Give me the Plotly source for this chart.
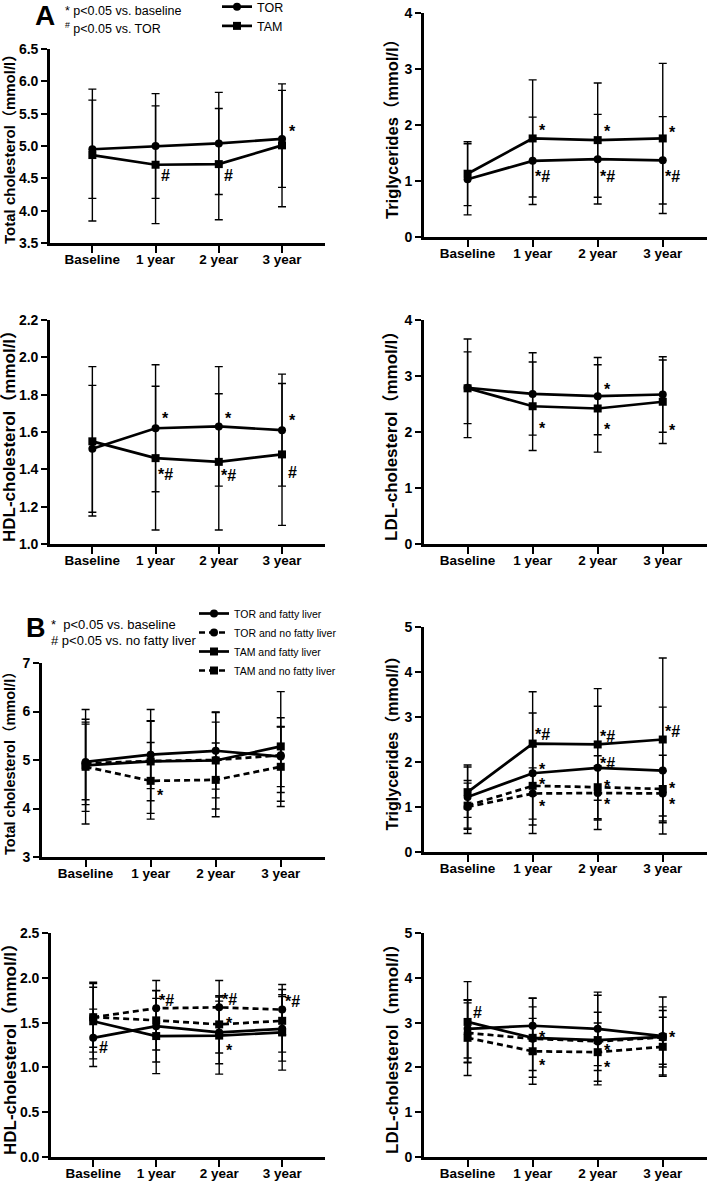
import plotly.graph_objects as go

# ---------------- data ----------------
cats = ["Baseline", "1 year", "2 year", "3 year"]

# Panel A (TOR vs TAM): means and SD
A_TC_TOR = [4.95, 5.00, 5.04, 5.11]
A_TC_TOR_SD = [0.76, 0.81, 0.79, 0.75]
A_TC_TAM = [4.86, 4.71, 4.72, 5.01]
A_TC_TAM_SD = [1.02, 0.91, 0.86, 0.95]

A_TG_TOR = [1.03, 1.36, 1.39, 1.37]
A_TG_TOR_SD = [0.635, 0.78, 0.80, 0.78]
A_TG_TAM = [1.13, 1.76, 1.73, 1.76]
A_TG_TAM_SD = [0.57, 1.045, 1.02, 1.34]

A_HDL_TOR = [1.51, 1.62, 1.63, 1.61]
A_HDL_TOR_SD = [0.34, 0.34, 0.32, 0.30]
A_HDL_TAM = [1.55, 1.46, 1.44, 1.48]
A_HDL_TAM_SD = [0.40, 0.385, 0.365, 0.38]

A_LDL_TOR = [2.79, 2.68, 2.64, 2.67]
A_LDL_TOR_SD = [0.64, 0.735, 0.69, 0.675]
A_LDL_TAM = [2.78, 2.46, 2.42, 2.54]
A_LDL_TAM_SD = [0.88, 0.79, 0.78, 0.745]

# Panel B (by fatty liver status)
B_TC_TORF = [4.96, 5.11, 5.19, 5.07]
B_TC_TORF_SD = [0.78, 0.70, 0.79, 0.62]
B_TC_TORN = [4.93, 4.98, 5.00, 5.10]
B_TC_TORN_SD = [0.85, 0.82, 0.78, 0.77]
B_TC_TAMF = [4.89, 4.97, 4.99, 5.28]
B_TC_TAMF_SD = [0.95, 1.07, 1.00, 1.13]
B_TC_TAMN = [4.86, 4.57, 4.59, 4.86]
B_TC_TAMN_SD = [1.18, 0.79, 0.76, 0.82]

B_TG_TORF = [1.22, 1.75, 1.87, 1.81]
B_TG_TORF_SD = [0.715, 1.34, 1.37, 1.41]
B_TG_TORN = [1.00, 1.30, 1.31, 1.30]
B_TG_TORN_SD = [0.59, 0.57, 0.60, 0.50]
B_TG_TAMF = [1.33, 2.41, 2.39, 2.50]
B_TG_TAMF_SD = [0.56, 1.15, 1.24, 1.81]
B_TG_TAMN = [1.03, 1.47, 1.44, 1.40]
B_TG_TAMN_SD = [0.50, 0.87, 0.70, 0.75]

B_HDL_TORF = [1.33, 1.46, 1.39, 1.43]
B_HDL_TORF_SD = [0.32, 0.40, 0.35, 0.36]
B_HDL_TORN = [1.56, 1.66, 1.67, 1.645]
B_HDL_TORN_SD = [0.39, 0.31, 0.30, 0.28]
B_HDL_TAMF = [1.515, 1.35, 1.355, 1.39]
B_HDL_TAMF_SD = [0.42, 0.42, 0.43, 0.42]
B_HDL_TAMN = [1.56, 1.525, 1.48, 1.52]
B_HDL_TAMN_SD = [0.335, 0.33, 0.32, 0.35]

B_LDL_TORF = [2.86, 2.93, 2.86, 2.70]
B_LDL_TORF_SD = [0.65, 0.62, 0.82, 0.87]
B_LDL_TORN = [2.77, 2.64, 2.58, 2.67]
B_LDL_TORN_SD = [0.67, 0.71, 0.65, 0.60]
B_LDL_TAMF = [3.015, 2.66, 2.61, 2.68]
B_LDL_TAMF_SD = [0.90, 0.88, 1.00, 0.67]
B_LDL_TAMN = [2.66, 2.36, 2.34, 2.46]
B_LDL_TAMN_SD = [0.84, 0.735, 0.65, 0.66]

# significance marks: (panel, category, y value, text)
sig_marks = [
    (1, "3 year", 5.30, "*"), (1, "1 year", 4.54, "#"), (1, "2 year", 4.54, "#"),
    (2, "1 year", 2.00, "*"), (2, "2 year", 1.98, "*"), (2, "3 year", 1.96, "*"),
    (2, "1 year", 1.09, "*#"), (2, "2 year", 1.09, "*#"), (2, "3 year", 1.09, "*#"),
    (3, "1 year", 1.70, "*"), (3, "2 year", 1.70, "*"), (3, "3 year", 1.686, "*"),
    (3, "1 year", 1.379, "*#"), (3, "2 year", 1.373, "*#"), (3, "3 year", 1.382, "#"),
    (4, "2 year", 2.84, "*"), (4, "1 year", 2.155, "*"), (4, "2 year", 2.137, "*"), (4, "3 year", 2.125, "*"),
    (5, "1 year", 4.375, "*"),
    (6, "1 year", 2.63, "*#"), (6, "1 year", 1.95, "*"), (6, "1 year", 1.61, "*"), (6, "1 year", 1.13, "*"),
    (6, "2 year", 2.59, "*#"), (6, "2 year", 2.00, "*#"), (6, "2 year", 1.56, "*"), (6, "2 year", 1.16, "*"),
    (6, "3 year", 2.70, "*#"), (6, "3 year", 1.52, "*"), (6, "3 year", 1.16, "*"),
    (7, "Baseline", 1.217, "#"), (7, "1 year", 1.757, "*#"), (7, "2 year", 1.768, "*#"),
    (7, "2 year", 1.545, "*"), (7, "2 year", 1.247, "*"), (7, "3 year", 1.749, "*#"),
    (8, "Baseline", 3.216, "#"), (8, "1 year", 2.78, "*"), (8, "1 year", 2.16, "*"),
    (8, "2 year", 2.49, "*"), (8, "2 year", 2.115, "*"), (8, "3 year", 2.77, "*"),
]

# ---------------- layout constants ----------------
W, H = 709, 1189
FONT = "Liberation Sans, Arial, Noto Sans CJK SC, sans-serif"

# panel pixel boxes: (x0, x1, ytop, ybottom)
boxes = {
    1: (50, 325, 49, 243),
    2: (424, 707, 13, 237),
    3: (50, 325, 320, 544),
    4: (424, 707, 320, 544),
    5: (42, 325, 663, 857),
    6: (424, 707, 627, 852),
    7: (51, 325, 933, 1157),
    8: (424, 707, 933, 1157),
}
yspec = {
    1: (3.5, 6.5, 0.5, ".1f", "Total cholesterol", 15, 10),
    2: (0, 4, 1, "d", "Triglycerides", 16.5, 392),
    3: (1.0, 2.2, 0.2, ".1f", "HDL-cholesterol", 17, 10),
    4: (0, 4, 1, "d", "LDL-cholesterol", 17, 392),
    5: (3, 7, 1, "d", "Total cholesterol", 14.5, 10),
    6: (0, 5, 1, "d", "Triglycerides", 16, 392),
    7: (0, 2.5, 0.5, ".1f", "HDL-cholesterol", 17, 10),
    8: (0, 5, 1, "d", "LDL-cholesterol", 17, 392),
}

fig = go.Figure()


def ax(i, kind):
    return kind if i == 1 else f"{kind}{i}"


def add(i, y, sd, name, symbol, dash, legend=None):
    fig.add_trace(go.Scatter(
        x=cats, y=y, name=name,
        mode="lines+markers",
        line=dict(color="black", width=2.7, dash=dash),
        marker=dict(symbol=symbol, size=8, color="black"),
        error_y=dict(type="data", array=sd, visible=True, color="black", thickness=1.4, width=4),
        xaxis=ax(i, "x"), yaxis=ax(i, "y"),
        showlegend=legend is not None,
        legend=legend if legend else "legend",
    ))


A_sets = [
    (1, A_TC_TOR, A_TC_TOR_SD, A_TC_TAM, A_TC_TAM_SD),
    (2, A_TG_TOR, A_TG_TOR_SD, A_TG_TAM, A_TG_TAM_SD),
    (3, A_HDL_TOR, A_HDL_TOR_SD, A_HDL_TAM, A_HDL_TAM_SD),
    (4, A_LDL_TOR, A_LDL_TOR_SD, A_LDL_TAM, A_LDL_TAM_SD),
]
for i, tor, tor_sd, tam, tam_sd in A_sets:
    lg = "legend" if i == 1 else None
    add(i, tor, tor_sd, "TOR", "circle", "solid", lg)
    add(i, tam, tam_sd, "TAM", "square", "solid", lg)

B_sets = [
    (5, B_TC_TORF, B_TC_TORF_SD, B_TC_TORN, B_TC_TORN_SD, B_TC_TAMF, B_TC_TAMF_SD, B_TC_TAMN, B_TC_TAMN_SD),
    (6, B_TG_TORF, B_TG_TORF_SD, B_TG_TORN, B_TG_TORN_SD, B_TG_TAMF, B_TG_TAMF_SD, B_TG_TAMN, B_TG_TAMN_SD),
    (7, B_HDL_TORF, B_HDL_TORF_SD, B_HDL_TORN, B_HDL_TORN_SD, B_HDL_TAMF, B_HDL_TAMF_SD, B_HDL_TAMN, B_HDL_TAMN_SD),
    (8, B_LDL_TORF, B_LDL_TORF_SD, B_LDL_TORN, B_LDL_TORN_SD, B_LDL_TAMF, B_LDL_TAMF_SD, B_LDL_TAMN, B_LDL_TAMN_SD),
]
for i, torf, torf_sd, torn, torn_sd, tamf, tamf_sd, tamn, tamn_sd in B_sets:
    lg = "legend2" if i == 5 else None
    add(i, torf, torf_sd, "TOR and fatty liver", "circle", "solid", lg)
    add(i, torn, torn_sd, "TOR and no fatty liver", "circle", "6px,4px", lg)
    add(i, tamf, tamf_sd, "TAM and fatty liver", "square", "solid", lg)
    add(i, tamn, tamn_sd, "TAM and no fatty liver", "square", "6px,4px", lg)

layout = dict(
    width=W, height=H, margin=dict(l=0, r=0, t=0, b=0, autoexpand=False),
    paper_bgcolor="white", plot_bgcolor="white",
    font=dict(family=FONT, color="black"),
    legend=dict(x=217 / W, y=1 + 8 / H, xanchor="left", yanchor="top",
                font=dict(size=12.5, family=FONT, color="black"), bgcolor="rgba(0,0,0,0)",
                tracegroupgap=0, itemwidth=30),
    legend2=dict(x=194 / W, y=1 - 599 / H, xanchor="left", yanchor="top",
                 font=dict(size=10.5, family=FONT, color="black"), bgcolor="rgba(0,0,0,0)",
                 tracegroupgap=0, itemwidth=30),
)
annotations = []
for i, (x0, x1, yt, yb) in boxes.items():
    ymin, ymax, dt, fmt, title, tsize, tx = yspec[i]
    layout[("xaxis" if i == 1 else f"xaxis{i}")] = dict(
        domain=[x0 / W, x1 / W], anchor=ax(i, "y"), range=[-0.67, 3.68],
        type="category", categoryorder="array", categoryarray=cats,
        showline=True, linecolor="black", linewidth=2.7, automargin=False,
        ticks="outside", ticklen=7, tickwidth=2.2, tickcolor="black",
        showgrid=False, zeroline=False, ticklabelstandoff=-5,
        tickfont=dict(size=13.5, family=FONT, weight="bold", color="black"),
    )
    layout[("yaxis" if i == 1 else f"yaxis{i}")] = dict(
        domain=[1 - yb / H, 1 - yt / H], anchor=ax(i, "x"), range=[ymin, ymax],
        dtick=dt, tick0=ymin, tickformat=fmt, automargin=False,
        showline=True, linecolor="black", linewidth=2.7,
        ticks="outside", ticklen=6, tickwidth=2.2, tickcolor="black",
        showgrid=False, zeroline=False,
        tickfont=dict(size=14, family=FONT, weight="bold", color="black"),
    )
    annotations.append(dict(
        text=f"<b>{title}（mmol/l）</b>", textangle=-90,
        xref="paper", yref="paper", x=tx / W, y=1 - (yt + yb) / 2 / H,
        xanchor="center", yanchor="middle", showarrow=False,
        font=dict(size=tsize, family=FONT, color="black"),
    ))

for p, c, yv, t in sig_marks:
    annotations.append(dict(
        text=f"<b>{t}</b>", xref=ax(p, "x"), yref=ax(p, "y"), x=c, y=yv,
        xanchor="center", yanchor="middle", showarrow=False, xshift=10,
        yshift=-5 if t == "*" else (-1 if t == "*#" else 0),
        font=dict(size=16, family=FONT, color="black"),
    ))

# panel letters and notes
annotations += [
    dict(text="<b>A</b>", x=33 / W, y=1 - 15 / H, font=dict(size=28, family=FONT, color="black")),
    dict(text="<b>B</b>", x=24 / W, y=1 - 628 / H, font=dict(size=27, family=FONT, color="black")),
]
notes = [
    ("* p&lt;0.05 vs. baseline", 63, 11, 12.5),
    ("<sup>#</sup> p&lt;0.05 vs. TOR", 63, 28, 12.5),
    ("*  p&lt;0.05 vs. baseline", 49, 624, 13),
    ("# p&lt;0.05 vs. no fatty liver", 49, 640, 13),
]
for t, x, y, s in notes:
    annotations.append(dict(text=t, x=x / W, y=1 - y / H, xanchor="left",
                            font=dict(size=s, family=FONT, color="black")))
for a in annotations:
    a.setdefault("xref", "paper")
    a.setdefault("yref", "paper")
    a.setdefault("showarrow", False)
    a.setdefault("yanchor", "middle")
layout["annotations"] = annotations
fig.update_layout(**layout)

fig.write_html("out.html", config={"displayModeBar": False},
               post_script="document.body.style.margin='0';")
